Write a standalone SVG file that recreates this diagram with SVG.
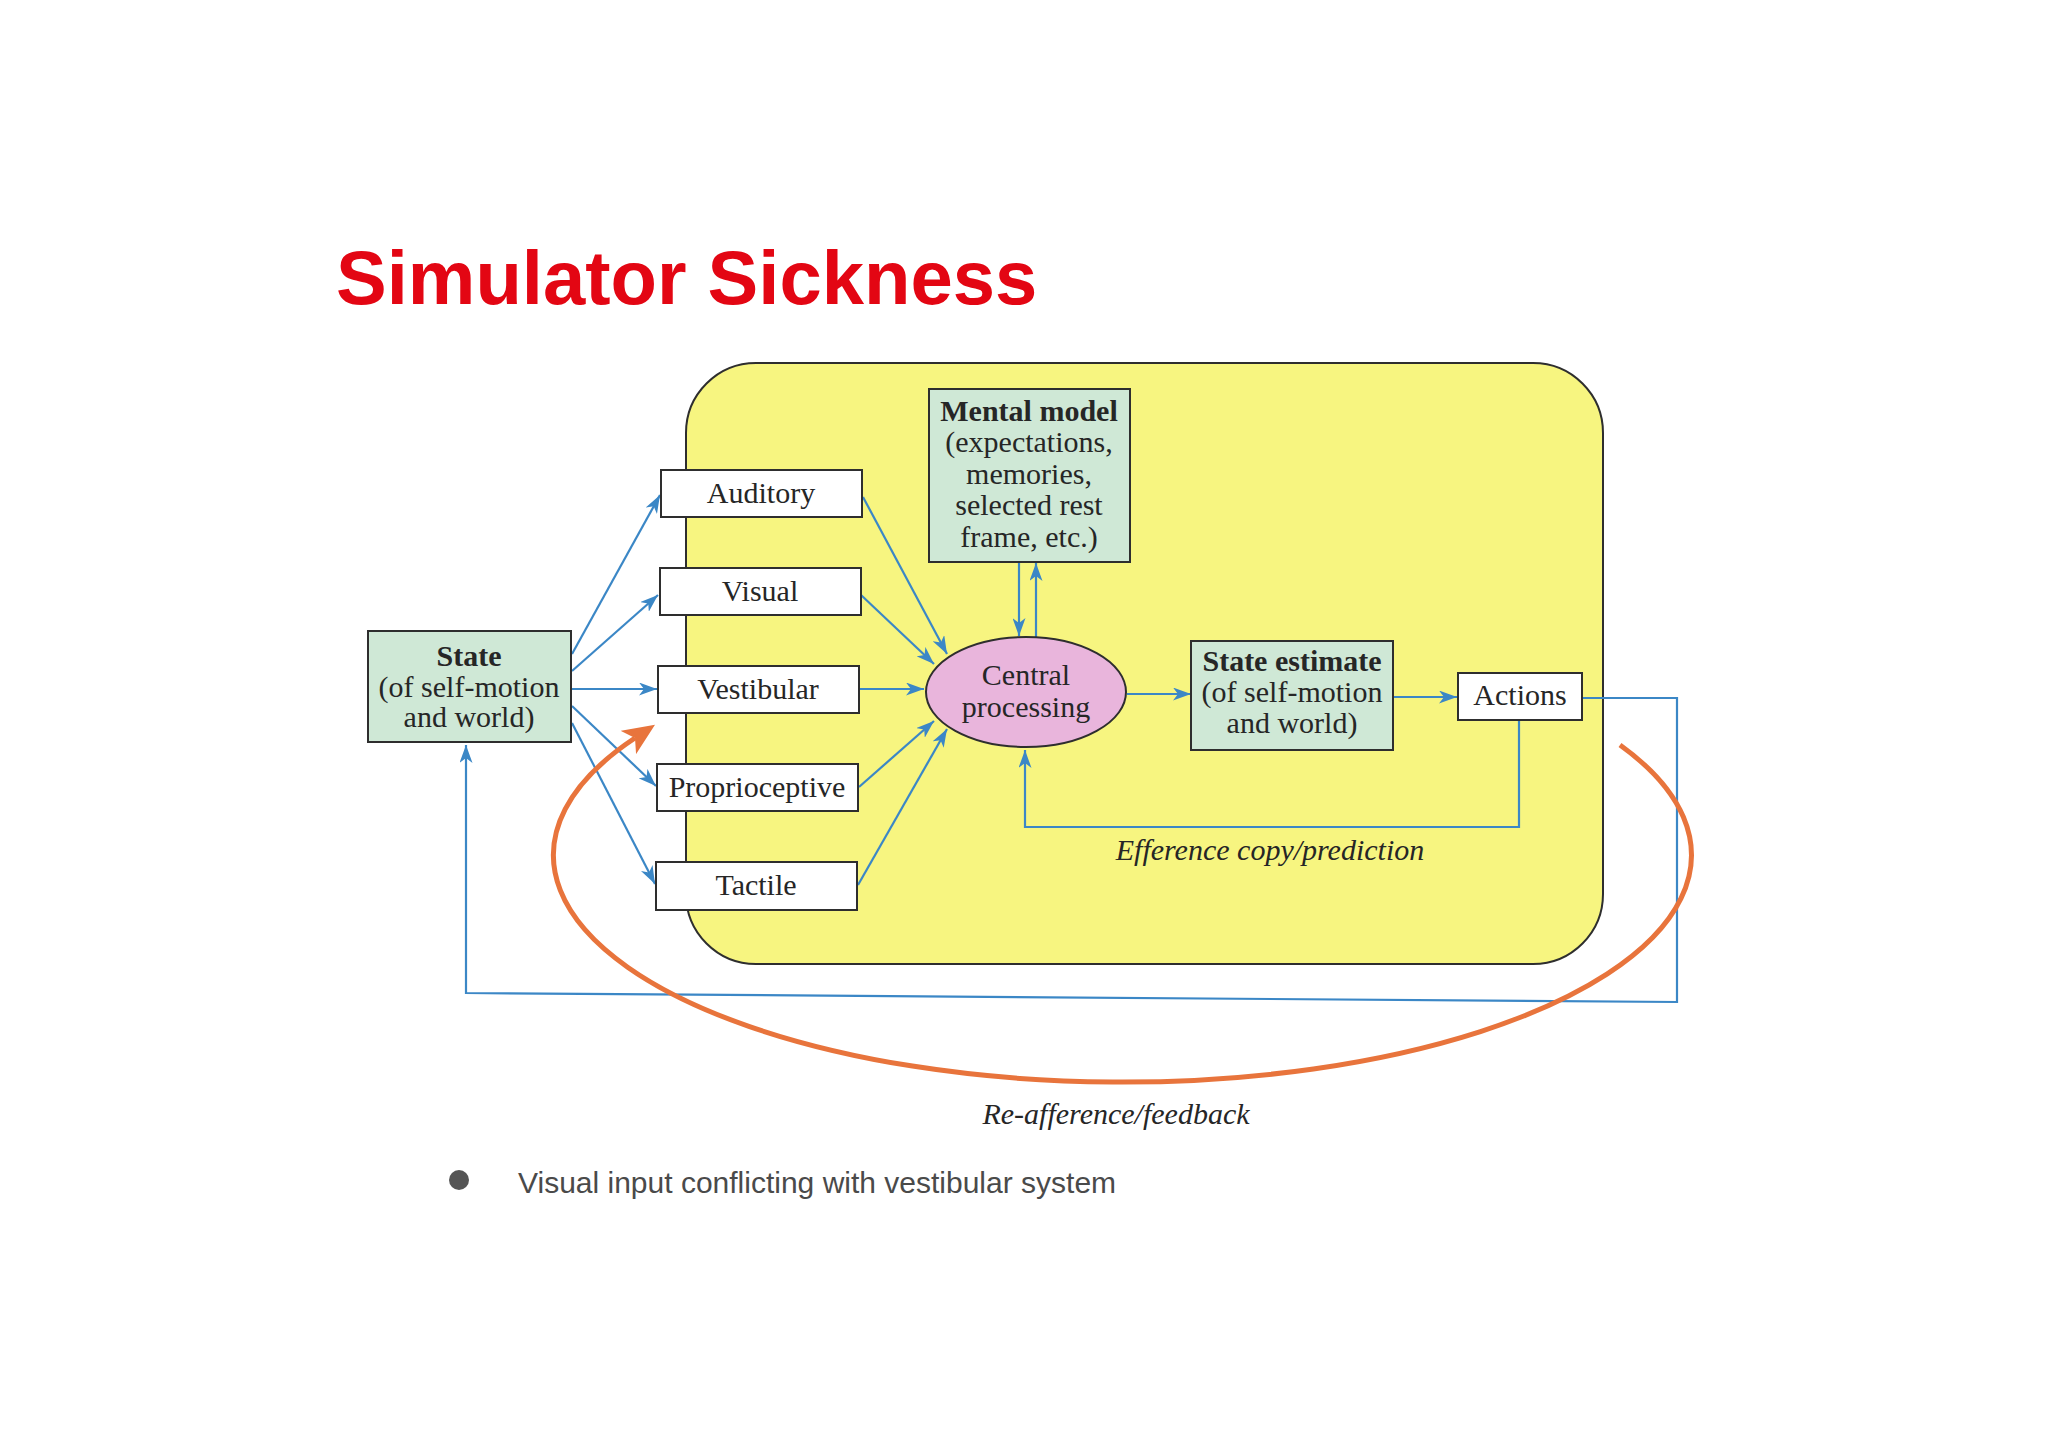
<svg xmlns="http://www.w3.org/2000/svg" width="2048" height="1448" viewBox="0 0 2048 1448">
<style>
.box{stroke:#2e2e2e;stroke-width:2}
.white{fill:#ffffff}
.green{fill:#cfe8d6}
.t{font-family:"Liberation Serif","DejaVu Serif",serif;font-size:30px;fill:#262626;text-anchor:middle}
.b{font-weight:bold}
.i{font-style:italic}
.c{fill:none;stroke:#3b87c6;stroke-width:2.2}
</style>
<defs>
<marker id="ab" viewBox="0 0 18 13" refX="18" refY="6.5" markerWidth="18" markerHeight="13" markerUnits="userSpaceOnUse" orient="auto">
<path d="M0,0 L18,6.5 L0,13 L5,6.5 z" fill="#3b87c6"/>
</marker>
<marker id="ao" viewBox="0 0 32 28" refX="8" refY="14" markerWidth="32" markerHeight="28" markerUnits="userSpaceOnUse" orient="auto">
<path d="M0,0 L32,14 L0,28 L8,14 z" fill="#e8743c"/>
</marker>
</defs>
<rect width="2048" height="1448" fill="#ffffff"/>

<text x="336" y="304" font-family="Liberation Sans, Arial, sans-serif" font-weight="bold" font-size="76" fill="#e30613">Simulator Sickness</text>

<g id="panel">
<rect x="686" y="363" width="917" height="601" rx="70" ry="70" fill="#f7f580" stroke="#2e2e2e" stroke-width="2"/>
</g>

<g id="connectors">
<path class="c" d="M572,654 L660,495" marker-end="url(#ab)"/>
<path class="c" d="M572,671 L658,595" marker-end="url(#ab)"/>
<path class="c" d="M572,689 L657,689" marker-end="url(#ab)"/>
<path class="c" d="M572,706 L656,786" marker-end="url(#ab)"/>
<path class="c" d="M572,723 L655,884" marker-end="url(#ab)"/>
<path class="c" d="M863,497 L947,654" marker-end="url(#ab)"/>
<path class="c" d="M861,595 L934,664" marker-end="url(#ab)"/>
<path class="c" d="M860,689 L924,689" marker-end="url(#ab)"/>
<path class="c" d="M859,787 L934,721" marker-end="url(#ab)"/>
<path class="c" d="M858,885 L947,729" marker-end="url(#ab)"/>
<path class="c" d="M1019,562 L1019,636" marker-end="url(#ab)"/>
<path class="c" d="M1036,639 L1036,563" marker-end="url(#ab)"/>
<path class="c" d="M1127,694 L1191,694" marker-end="url(#ab)"/>
<path class="c" d="M1393,697 L1457,697" marker-end="url(#ab)"/>
<path class="c" d="M1519,720 L1519,827 L1025,827 L1025,750" marker-end="url(#ab)"/>
<path class="c" d="M1582,698 L1677,698 L1677,1002 L466,993 L466,745" marker-end="url(#ab)"/>
<path d="M1620,745 A569,227 0 1 1 635,738" fill="none" stroke="#e8743c" stroke-width="5" marker-end="url(#ao)"/>
</g>

<g id="state">
<rect class="box green" x="368" y="631" width="203" height="111"/>
<text class="t b" x="469" y="666">State</text>
<text class="t" x="469" y="697">(of self-motion</text>
<text class="t" x="469" y="727">and world)</text>
</g>

<g id="auditory">
<rect class="box white" x="661" y="470" width="201" height="47"/>
<text class="t" x="761" y="503">Auditory</text>
</g>
<g id="visual">
<rect class="box white" x="660" y="568" width="201" height="47"/>
<text class="t" x="760" y="601">Visual</text>
</g>
<g id="vestibular">
<rect class="box white" x="658" y="666" width="201" height="47"/>
<text class="t" x="758" y="699">Vestibular</text>
</g>
<g id="proprioceptive">
<rect class="box white" x="657" y="764" width="201" height="47"/>
<text class="t" x="757" y="797">Proprioceptive</text>
</g>
<g id="tactile">
<rect class="box white" x="656" y="862" width="201" height="48"/>
<text class="t" x="756" y="895">Tactile</text>
</g>

<g id="mental-model">
<rect class="box green" x="929" y="389" width="201" height="173"/>
<text class="t b" x="1029" y="421">Mental model</text>
<text class="t" x="1029" y="452">(expectations,</text>
<text class="t" x="1029" y="484">memories,</text>
<text class="t" x="1029" y="515">selected rest</text>
<text class="t" x="1029" y="547">frame, etc.)</text>
</g>

<g id="central">
<ellipse cx="1026" cy="692" rx="100" ry="55" fill="#e9b5dc" stroke="#2e2e2e" stroke-width="2"/>
<text class="t" x="1026" y="685">Central</text>
<text class="t" x="1026" y="717">processing</text>
</g>

<g id="state-estimate">
<rect class="box green" x="1191" y="641" width="202" height="109"/>
<text class="t b" x="1292" y="671">State estimate</text>
<text class="t" x="1292" y="702">(of self-motion</text>
<text class="t" x="1292" y="733">and world)</text>
</g>

<g id="actions">
<rect class="box white" x="1458" y="673" width="124" height="47"/>
<text class="t" x="1520" y="705">Actions</text>
</g>

<g id="labels">
<text class="t i" x="1270" y="860">Efference copy/prediction</text>
<text class="t i" x="1116" y="1124">Re-afference/feedback</text>
</g>

<g id="bullet">
<circle cx="459" cy="1180" r="10" fill="#555555"/>
<text x="518" y="1193" font-family="Liberation Sans, Arial, sans-serif" font-size="30" fill="#4a4a4a">Visual input conflicting with vestibular system</text>
</g>
</svg>
